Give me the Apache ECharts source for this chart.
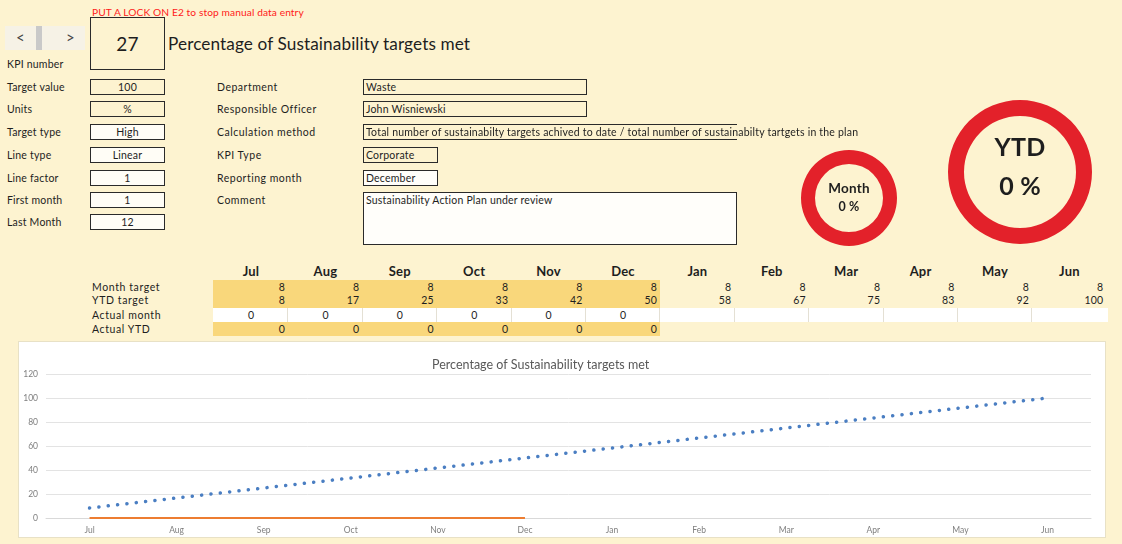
<!DOCTYPE html>
<html>
<head>
<meta charset="utf-8">
<title>KPI 27</title>
<script src="https://cdn.jsdelivr.net/npm/echarts@6/dist/echarts.min.js"></script>
<style>
  body {
    margin: 0;
    width: 1122px;
    height: 544px;
    background: #fdf3d0;
    font-family: Lato, "Noto Sans", sans-serif;
    color: #1e1e1e;
    position: relative;
    overflow: hidden;
  }
  .t { position: absolute; white-space: nowrap; font-size: 10.5px; line-height: 12px; letter-spacing: 0.2px; transform: translateY(-50%); }
  #chart { position: absolute; left: 18px; top: 341px; width: 1088px; height: 197px; background: #fff; border: 1px solid #e8e1c6; box-sizing: border-box; }
  #rings { position: absolute; left: 780px; top: 90px; width: 342px; height: 170px; }
</style>
</head>
<body>
<div id="rings"></div>
<div id="chart"></div>
<script>
// KPI header
const kpiNumber = 27;
const kpiTitle = 'Percentage of Sustainability targets met';

// left side fields
const leftLabels = ['Target value', 'Units', 'Target type', 'Line type', 'Line factor', 'First month', 'Last Month'];
const leftValues = ['100', '%', 'High', 'Linear', '1', '1', '12'];

// middle fields
const infoLabels = ['Department', 'Responsible Officer', 'Calculation method', 'KPI Type', 'Reporting month', 'Comment'];
const infoValues = ['Waste', 'John Wisniewski',
  'Total number of sustainabilty targets achived to date / total number of sustainabilty tartgets in the plan',
  'Corporate', 'December', 'Sustainability Action Plan under review'];

// table / chart data
const months = ['Jul', 'Aug', 'Sep', 'Oct', 'Nov', 'Dec', 'Jan', 'Feb', 'Mar', 'Apr', 'May', 'Jun'];
const monthTarget = [8, 8, 8, 8, 8, 8, 8, 8, 8, 8, 8, 8];
const ytdTarget = [8.33, 16.67, 25, 33.33, 41.67, 50, 58.33, 66.67, 75, 83.33, 91.67, 100];
const actualMonth = [0, 0, 0, 0, 0, 0];
const actualYtd = [0, 0, 0, 0, 0, 0];

// ring values (% achieved)
const monthPct = 0;
const ytdPct = 0;

function put(text, x, y, css) {
  const d = document.createElement('div');
  d.className = 't';
  d.textContent = text;
  d.style.left = x + 'px';
  d.style.top = y + 'px';
  if (css) Object.assign(d.style, css);
  document.body.appendChild(d);
  return d;
}
function rect(x, y, w, h, css) {
  const d = document.createElement('div');
  d.style.position = 'absolute';
  d.style.left = x + 'px';
  d.style.top = y + 'px';
  d.style.width = w + 'px';
  d.style.height = h + 'px';
  d.style.boxSizing = 'border-box';
  if (css) Object.assign(d.style, css);
  document.body.appendChild(d);
  return d;
}

put('PUT A LOCK ON E2 to stop manual data entry', 92, 12, {color: '#ff1a1a', fontSize: '10.2px', letterSpacing: '0.1px'});

// scroll widget
rect(5, 26, 80, 24, {background: '#f6f2e6'});
rect(36, 26, 6, 24, {background: '#c9c9c9'});
put('<', 16, 37, {fontSize: '15px', lineHeight: '16px', color: '#444'});
put('>', 66, 37, {fontSize: '15px', lineHeight: '16px', color: '#444'});
put('KPI number', 7, 64);

// KPI number box + title
rect(90, 17, 75, 53, {border: '1.5px solid #2a2a2a'});
put(String(kpiNumber), 90, 44, {width: '75px', textAlign: 'center', fontSize: '19px', lineHeight: '22px'});
put(kpiTitle, 168, 44, {fontSize: '17.2px', lineHeight: '22px', letterSpacing: '0.1px'});

const rowY = [87, 109, 132, 155, 178, 200, 222];
leftLabels.forEach((l, i) => {
  put(l, 7, rowY[i]);
  rect(90, rowY[i] - 8, 75, 16, {border: '1.5px solid #2a2a2a', background: i < 2 ? 'transparent' : '#fffdf6'});
  put(leftValues[i], 90, rowY[i], {width: '75px', textAlign: 'center'});
});

infoLabels.forEach((l, i) => {
  put(l, 217, rowY[i], {letterSpacing: '0.5px'});
});
const infoBoxes = [[587, 16], [587, 16], [737, 16], [438, 16], [438, 16], [737, 53]];
infoValues.forEach((v, i) => {
  const [r, h] = infoBoxes[i];
  const css = {border: '1.5px solid #2a2a2a'};
  if (i === 2) css.borderRight = 'none';
  if (i >= 4) css.background = '#fffefa';
  rect(363, rowY[i] - 8, r - 363, h, css);
  put(v, 366, rowY[i], {fontSize: '10.5px', letterSpacing: '0.2px'});
});

// table
const colC = i => 251 + i * 74.4;
rect(213, 280, 447, 28, {background: '#f9d77b'});
rect(213, 322, 447, 14, {background: '#f9d77b'});
rect(213, 308, 895, 14, {background: '#ffffff'});
for (let i = 1; i < 12; i++) {
  rect(colC(i) - 38, 308, 1, 14, {background: '#e4e0d4'});
}
months.forEach((m, i) => {
  put(m, colC(i) - 30, 271, {width: '60px', textAlign: 'center', fontSize: '13px', fontWeight: 'bold'});
  put(String(monthTarget[i]), colC(i) - 30, 287, {width: '64px', textAlign: 'right', fontSize: '10.5px'});
  put(String(Math.round(ytdTarget[i])), colC(i) - 30, 300, {width: '64px', textAlign: 'right', fontSize: '10.5px'});
});
actualMonth.forEach((v, i) => put(String(v), colC(i) - 3, 315, {fontSize: '10.5px'}));
actualYtd.forEach((v, i) => put(String(v), colC(i) - 30, 329, {width: '64px', textAlign: 'right', fontSize: '10.5px'}));
['Month target', 'YTD target', 'Actual month', 'Actual YTD'].forEach((l, i) =>
  put(l, 92, [287, 300, 315, 329][i], {fontSize: '10.5px', letterSpacing: '0.6px'}));

// rings
const rings = echarts.init(document.getElementById('rings'));
function ring(center, radius, pct) {
  return {
    type: 'pie', center: center, radius: radius, silent: true, startAngle: 90,
    label: {show: false}, labelLine: {show: false},
    data: [
      {value: pct, itemStyle: {color: '#2ca02c'}},
      {value: 100 - pct, itemStyle: {color: '#e3212a'}}
    ]
  };
}
rings.setOption({
  animation: false,
  series: [ring([69, 108], [34, 48], monthPct), ring([240, 82], [56, 72], ytdPct)]
});
put('Month', 815, 188, {width: '68px', textAlign: 'center', fontSize: '13.5px', fontWeight: 'bold', lineHeight: '16px'});
put(monthPct + ' %', 815, 207, {width: '68px', textAlign: 'center', fontSize: '12.5px', fontWeight: 'bold', lineHeight: '16px'});
put('YTD', 975, 146, {width: '90px', textAlign: 'center', fontSize: '25px', lineHeight: '30px', fontWeight: 'bold'});
put(ytdPct + ' %', 975, 185, {width: '90px', textAlign: 'center', fontSize: '25px', lineHeight: '30px', fontWeight: 'bold'});

// trend chart
const chart = echarts.init(document.getElementById('chart'));
chart.setOption({
  animation: false,
  title: {
    text: kpiTitle, left: 408, top: 11,
    textStyle: {fontSize: 12.5, fontWeight: 'normal', color: '#595959', fontFamily: 'Lato'}
  },
  grid: {left: 27, right: 14, top: 32, bottom: 19},
  xAxis: {
    type: 'category', data: months, boundaryGap: true,
    axisLine: {lineStyle: {color: '#d9d9d9'}},
    axisTick: {show: false},
    axisLabel: {fontSize: 8.5, color: '#7f7f7f', margin: 8, fontFamily: 'Lato'}
  },
  yAxis: {
    type: 'value', min: 0, max: 120, interval: 20,
    axisLabel: {fontSize: 8.5, color: '#7f7f7f', margin: 8, fontFamily: 'Lato'},
    splitLine: {lineStyle: {color: '#e3e3e3'}}
  },
  series: [
    {
      name: 'YTD target', type: 'line', data: ytdTarget, symbol: 'none',
      lineStyle: {color: '#4a7ec2', width: 3.5, type: [0.1, 9.3], cap: 'round'}
    },
    {
      name: 'Actual YTD', type: 'line', data: actualYtd, symbol: 'none',
      lineStyle: {color: '#ed7d31', width: 2}
    }
  ]
});
</script>
</body>
</html>
